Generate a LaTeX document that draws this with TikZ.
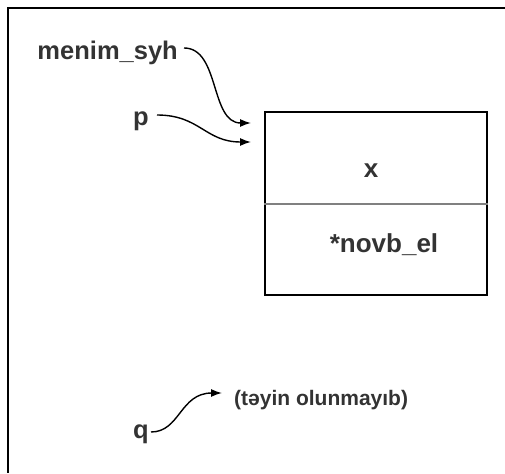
\documentclass[tikz,border=0pt]{standalone}
\usepackage{fontspec}
\setmainfont{Liberation Sans}
\usetikzlibrary{arrows.meta}
\definecolor{txtgray}{HTML}{333333}
\tikzset{
  lbl/.style={font=\bfseries\fontsize{25.5}{30}\selectfont, text=txtgray, inner sep=0pt},
  cell/.style={font=\bfseries\fontsize{26}{30}\selectfont, text=txtgray, inner sep=0pt},
  note/.style={font=\bfseries\fontsize{21}{25}\selectfont, text=txtgray, inner sep=0pt},
  ptr/.style={line width=1.4pt, -{Latex[length=11pt,width=8pt]}},
}
\begin{document}
\begin{tikzpicture}[x=1pt, y=-1pt]
\useasboundingbox (0,0) rectangle (505,473);
% frame
\draw [line width=2pt] (505,8) -- (8,8) -- (8,473);

% the record
\node (rec) [draw, line width=2.4pt, minimum width=222pt, minimum height=183pt] at (376,203.5) {};
\draw [line width=1.5pt, gray] ([yshift=-93pt]rec.north west) -- ([yshift=-93pt]rec.north east);
\node (x) [cell, anchor=base] at (371,177) {x};
\node (nel) [cell, anchor=base] at (384,252) {*novb\_el};

% pointers
\node (msyh) [lbl, anchor=base east] at (178,60) {menim\_syh};
\node (p) [lbl, anchor=base east] at (149,126) {p};
\node (q) [lbl, anchor=base east] at (149,438) {q};
\node (unset) [note, anchor=base west] at (234,405) {(təyin olunmayıb)};

\coordinate (t1) at (251,123);
\coordinate (t2) at (251,142);
\coordinate (t3) at (222,393);

\draw [ptr] ([xshift=6pt]msyh.east |- 0,48) .. controls (220,48) and (210,123) .. (t1);
\draw [ptr] ([xshift=8pt]p.east |- 0,115) .. controls (200,115) and (205,142) .. (t2);
\draw [ptr] ([xshift=2pt]q.east |- 0,432) .. controls (180,432) and (180,393) .. (t3);
\end{tikzpicture}
\end{document}
